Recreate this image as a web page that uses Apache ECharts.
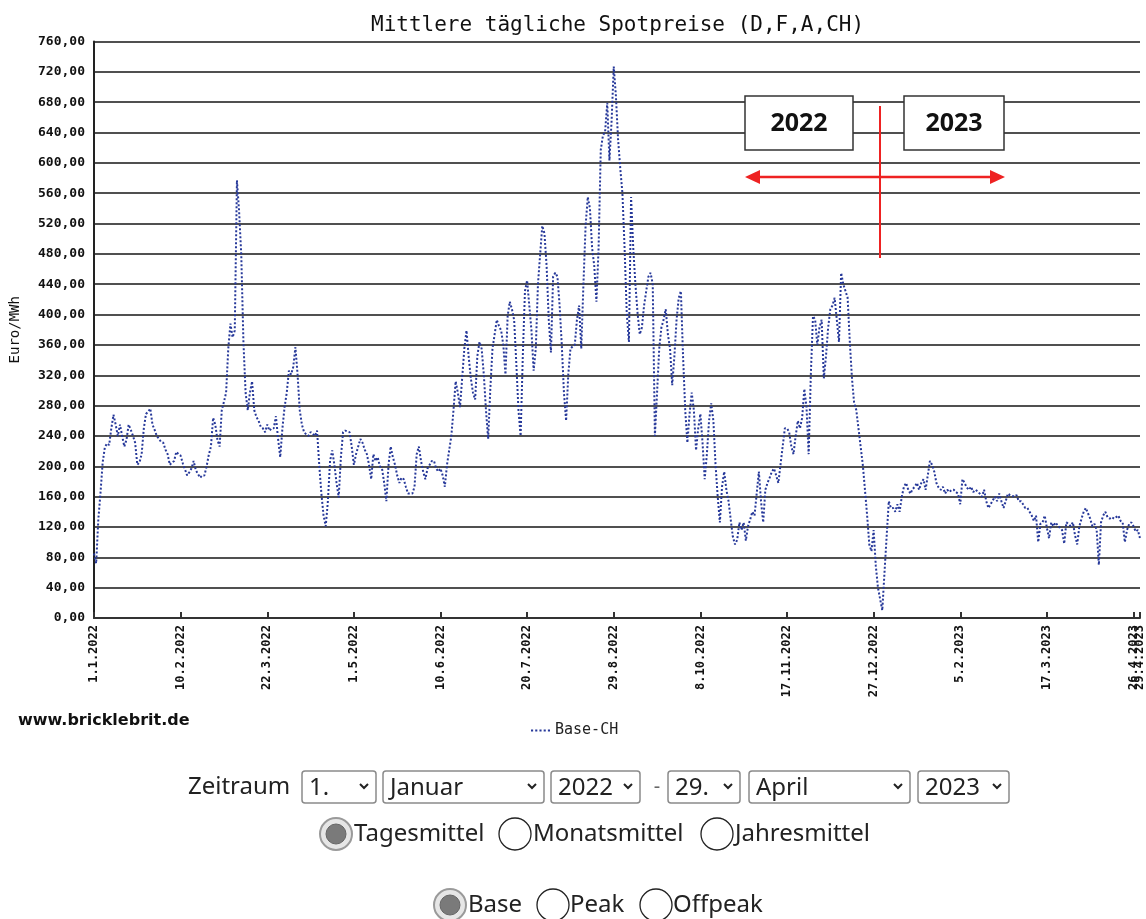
<!DOCTYPE html>
<html>
<head>
<meta charset="utf-8">
<script src="https://cdn.jsdelivr.net/npm/echarts@6/dist/echarts.min.js"></script>
<style>
html,body{margin:0;padding:0;background:#fff;}
#chart{width:1146px;height:919px;}
</style>
</head>
<body>
<div id="chart"></div>
<script>
// ---- Data ----
const chartTitle = 'Mittlere tägliche Spotpreise (D,F,A,CH)';
const seriesName = 'Base-CH';
const yAxisName = 'Euro/MWh';
const startYear = 2022;
const yMin = 0, yMax = 760, yStep = 40;
const labelEveryDays = 40;

// daily averages, 1.1.2022 - 31.12.2022
const price2022 = [
  85,72,130,165,205,225,230,228,250,268,
  255,240,255,240,226,235,255,248,240,231,
  202,205,216,250,269,272,276,255,248,240,
  236,232,231,222,216,202,205,207,219,216,
  214,204,196,188,192,197,207,195,190,185,
  188,188,200,215,226,264,255,235,226,274,
  285,297,355,388,370,379,577,536,479,364,
  297,274,297,312,274,265,260,252,250,245,
  255,247,250,250,266,236,212,250,278,297,
  326,321,331,357,321,274,255,245,242,240,
  245,243,240,247,202,164,135,121,154,207,
  221,202,178,159,212,245,247,246,245,226,
  202,216,226,236,231,222,216,202,183,216,
  207,212,200,197,178,154,202,226,212,202,
  188,178,185,183,173,164,164,164,173,216,
  226,207,193,183,197,202,207,207,197,193,
  197,188,173,202,221,240,274,312,297,278,
  316,355,379,345,316,297,288,345,364,355,
  321,274,236,302,355,374,393,385,379,360,
  321,398,417,407,393,336,274,240,345,431,
  445,412,379,326,355,440,479,517,507,464,
  393,350,450,455,450,412,360,297,260,321,
  355,358,360,393,412,355,440,517,555,540,
  488,464,417,488,617,636,641,679,603,655,
  727,688,631,593,560,488,402,364,555,488,
  440,402,374,383,412,431,450,455,440,240,
  297,355,383,393,407,374,355,307,345,393,
  422,431,345,274,231,269,297,274,221,250,
  269,231,183,216,260,283,260,202,160,126,
  173,193,169,154,130,107,97,103,126,116,
  126,102,121,130,140,135,164,193,154,126,
  169,178,185,193,197,188,178,202,226,250,
  250,245,226,216,240,260,250,264,302,278,
  216,321,398,393,360,383,393,316,345,383,
  407,412,422,393,364,455,440,431,422,364,
  316,283,274,250,226,202,169,135,97,88,
  116,69,40,25,10
];
// daily averages, 1.1.2023 - 29.4.2023
const price2023 = [
  59,107,154,145,145,140,150,140,160,173,
  178,169,164,170,173,178,169,178,183,169,
  188,207,202,193,178,172,169,173,164,169,
  166,169,169,166,164,150,183,178,172,169,
  173,166,169,167,164,160,169,154,145,150,
  155,160,154,164,154,145,154,164,162,161,
  160,162,154,154,150,145,145,140,135,128,
  135,100,124,126,135,119,105,126,121,126,
  122,119,116,98,126,124,121,126,109,97,
  121,131,140,145,138,131,121,124,116,70,
  126,135,140,133,131,133,131,133,135,128,
  126,100,116,124,126,121,114,116,105
];

// form / annotation texts
const periodLabels = ['2022', '2023'];
const selectTexts = ['1.', 'Januar', '2022', '29.', 'April', '2023'];
const averageOptions = ['Tagesmittel', 'Monatsmittel', 'Jahresmittel'];
const loadOptions = ['Base', 'Peak', 'Offpeak'];
const footerText = 'www.bricklebrit.de';

// ---- Build categories (d.m.yyyy) ----
const values = price2022.concat(price2023);
const categories = [];
for (let i = 0; i < values.length; i++) {
  const d = new Date(Date.UTC(startYear, 0, 1 + i));
  categories.push(d.getUTCDate() + '.' + (d.getUTCMonth() + 1) + '.' + d.getUTCFullYear());
}
const lastIdx = values.length - 1;
const isStep = (idx) => idx % labelEveryDays === 0;

// ---- Graphic elements (annotation + form) ----
const RED = '#ee2222';
const graphics = [];
const boxes = [{x: 745, w: 108, t: periodLabels[0]}, {x: 904, w: 100, t: periodLabels[1]}];
boxes.forEach(b => {
  graphics.push({type: 'rect', z: 100, shape: {x: b.x, y: 96, width: b.w, height: 54},
    style: {fill: '#fff', stroke: '#333', lineWidth: 1.5}});
  graphics.push({type: 'text', z: 101, x: b.x + b.w / 2, y: 124,
    style: {text: b.t, fontFamily: 'Open Sans', fontWeight: 'bold', fontSize: 25, fill: '#111', align: 'center', verticalAlign: 'middle'}});
});
graphics.push({type: 'line', z: 102, shape: {x1: 880, y1: 106, x2: 880, y2: 258}, style: {stroke: RED, lineWidth: 2}});
graphics.push({type: 'line', z: 102, shape: {x1: 756, y1: 177, x2: 994, y2: 177}, style: {stroke: RED, lineWidth: 2.5}});
graphics.push({type: 'polygon', z: 102, shape: {points: [[745, 177], [760, 170], [760, 184]]}, style: {fill: RED}});
graphics.push({type: 'polygon', z: 102, shape: {points: [[1005, 177], [990, 170], [990, 184]]}, style: {fill: RED}});

graphics.push({type: 'text', x: 18, y: 721,
  style: {text: footerText, fontFamily: 'DejaVu Sans', fontWeight: 'bold', fontSize: 16, fill: '#111', verticalAlign: 'middle'}});

const FORM_FONT = 'Noto Sans';
const FORM_SIZE = 24;
graphics.push({type: 'text', x: 188, y: 787,
  style: {text: 'Zeitraum', fontFamily: FORM_FONT, fontSize: FORM_SIZE, fill: '#222', verticalAlign: 'middle'}});
const selBoxes = [{x: 302, w: 74}, {x: 383, w: 161}, {x: 551, w: 89}, {x: 668, w: 72}, {x: 749, w: 161}, {x: 918, w: 91}];
selBoxes.forEach((b, i) => {
  graphics.push({type: 'rect', shape: {x: b.x, y: 771, width: b.w, height: 32, r: 3},
    style: {fill: '#fff', stroke: '#8a8a8a', lineWidth: 1.5}});
  graphics.push({type: 'text', x: b.x + 7, y: 788,
    style: {text: selectTexts[i], fontFamily: FORM_FONT, fontSize: FORM_SIZE, fill: '#222', verticalAlign: 'middle'}});
  const cx = b.x + b.w - 12;
  graphics.push({type: 'polyline', shape: {points: [[cx - 4, 784], [cx, 788], [cx + 4, 784]]},
    style: {stroke: '#222', lineWidth: 2, fill: null}});
});
graphics.push({type: 'text', x: 657, y: 787,
  style: {text: '-', fontFamily: FORM_FONT, fontSize: 20, fill: '#666', align: 'center', verticalAlign: 'middle'}});

function radio(cx, cy, checked) {
  if (checked) {
    graphics.push({type: 'circle', shape: {cx: cx, cy: cy, r: 16}, style: {fill: '#e6e6e6', stroke: '#9a9a9a', lineWidth: 2}});
    graphics.push({type: 'circle', shape: {cx: cx, cy: cy, r: 10}, style: {fill: '#7a7a7a', stroke: '#666', lineWidth: 1}});
  } else {
    graphics.push({type: 'circle', shape: {cx: cx, cy: cy, r: 16}, style: {fill: '#fff', stroke: '#222', lineWidth: 1.3}});
  }
}
function optText(x, y, t) {
  graphics.push({type: 'text', x: x, y: y,
    style: {text: t, fontFamily: FORM_FONT, fontSize: FORM_SIZE, fill: '#222', verticalAlign: 'middle'}});
}
const row1 = [{c: 336, t: 354}, {c: 515, t: 533}, {c: 717, t: 735}];
row1.forEach((r, i) => { radio(r.c, 834, i === 0); optText(r.t, 834, averageOptions[i]); });
const row2 = [{c: 450, t: 468}, {c: 553, t: 570}, {c: 656, t: 673}];
row2.forEach((r, i) => { radio(r.c, 905, i === 0); optText(r.t, 905, loadOptions[i]); });

// ---- Chart ----
const chart = echarts.init(document.getElementById('chart'), null, {renderer: 'canvas'});
const MONO = 'DejaVu Sans Mono';
const xLabelStyle = {rotate: 90, margin: 7, hideOverlap: false, fontFamily: MONO, fontWeight: 'bold', fontSize: 12, color: '#111'};
chart.setOption({
  animation: false,
  backgroundColor: '#fff',
  title: {
    text: chartTitle, left: 366, top: 10,
    textStyle: {fontFamily: MONO, fontSize: 21, fontWeight: 'normal', color: '#111'}
  },
  legend: {
    data: [{name: seriesName, icon: 'path://M0,0h2v2h-2zM4,0h2v2h-2zM8,0h2v2h-2zM12,0h2v2h-2zM16,0h2v2h-2z'}],
    left: 526, top: 718,
    itemWidth: 19, itemHeight: 2.5, itemGap: 4,
    textStyle: {fontFamily: MONO, fontSize: 15, color: '#222'}
  },
  grid: {left: 89, right: 6, top: 41.5, bottom: 301, containLabel: false},
  xAxis: [{
    type: 'category', data: categories, boundaryGap: false,
    axisLine: {show: true, lineStyle: {color: '#333', width: 2}},
    axisTick: {show: true, inside: true, length: 6, interval: (idx) => isStep(idx) || idx === lastIdx, lineStyle: {color: '#333', width: 2}},
    axisLabel: Object.assign({interval: (idx) => isStep(idx), showMinLabel: true, showMaxLabel: true}, xLabelStyle),
    splitLine: {show: false}
  }, {
    type: 'category', data: categories, boundaryGap: false, position: 'bottom',
    axisLine: {show: false}, axisTick: {show: false}, splitLine: {show: false},
    axisLabel: Object.assign({interval: (idx) => idx === lastIdx, showMinLabel: false, showMaxLabel: true}, xLabelStyle)
  }],
  yAxis: {
    type: 'value', min: yMin, max: yMax, interval: yStep,
    name: yAxisName, nameLocation: 'middle', nameGap: 72, nameRotate: 90,
    nameTextStyle: {fontFamily: MONO, fontSize: 14, color: '#111'},
    axisLine: {show: true, lineStyle: {color: '#222', width: 2}},
    axisTick: {show: false},
    axisLabel: {
      margin: 9, fontFamily: MONO, fontWeight: 'bold', fontSize: 13, color: '#111',
      formatter: (v) => v.toFixed(2).replace('.', ',')
    },
    splitLine: {show: true, lineStyle: {color: '#505050', width: 2}}
  },
  series: [{
    name: seriesName, type: 'line', data: values, xAxisIndex: 0,
    symbol: 'none', showSymbol: false, smooth: false,
    lineStyle: {color: '#27399a', width: 2, type: [2, 2]},
    itemStyle: {color: '#27399a'},
    z: 3
  }],
  graphic: graphics
});
</script>
</body>
</html>
